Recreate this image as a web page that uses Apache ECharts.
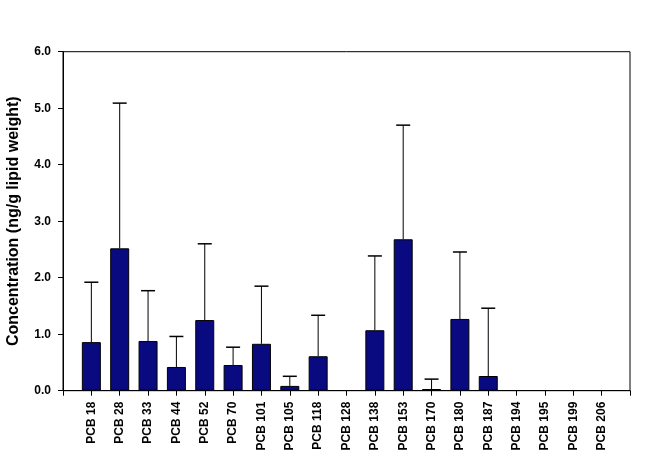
<!DOCTYPE html>
<html>
<head>
<meta charset="utf-8">
<script src="https://cdn.jsdelivr.net/npm/echarts@6/dist/echarts.min.js"></script>
<style>html,body{margin:0;padding:0;background:#fff;}#c{width:657px;height:471px;}</style>
</head>
<body>
<div id="c"></div>
<script>
const categories = ['PCB 18','PCB 28','PCB 33','PCB 44','PCB 52','PCB 70','PCB 101','PCB 105','PCB 118','PCB 128','PCB 138','PCB 153','PCB 170','PCB 180','PCB 187','PCB 194','PCB 195','PCB 199','PCB 206'];
const means = [0.86, 2.52, 0.88, 0.42, 1.25, 0.455, 0.83, 0.085, 0.61, 0, 1.07, 2.68, 0.03, 1.27, 0.26, 0, 0, 0, 0];
const upperErr = [1.92, 5.09, 1.77, 0.96, 2.60, 0.77, 1.85, 0.255, 1.335, 0, 2.385, 4.70, 0.205, 2.455, 1.46, 0, 0, 0, 0];
const yTicks = [0, 1, 2, 3, 4, 5, 6];

const padCats = [''].concat(categories).concat(['']);
const barData = [null].concat(means.map(v => v > 0 ? v : null)).concat([null]);
const errData = [];
categories.forEach((c, i) => { if (upperErr[i] > means[i]) errData.push([i + 1, means[i], upperErr[i]]); });

const chart = echarts.init(document.getElementById('c'), null, {renderer: 'canvas'});
const font = 'Liberation Sans, Arial, sans-serif';
chart.setOption({
  animation: false,
  backgroundColor: '#fff',
  grid: {left: 63, right: 27, top: 51.7, bottom: 80.3, containLabel: false, outerBoundsMode: 'none', show: true, borderColor: '#000', borderWidth: 1, backgroundColor: 'transparent'},
  xAxis: {
    type: 'category', data: padCats, boundaryGap: false,
    axisLine: {lineStyle: {color: '#000', width: 1}},
    axisTick: {show: true, length: 5, alignWithLabel: true, interval: 0, lineStyle: {color: '#000'}},
    axisLabel: {rotate: 90, interval: 0, margin: 11, fontFamily: font, fontWeight: 'bold', fontSize: 12, color: '#000'},
    splitLine: {show: false}
  },
  yAxis: {
    type: 'value', min: yTicks[0], max: yTicks[yTicks.length - 1], interval: 1,
    name: 'Concentration (ng/g lipid weight)', nameLocation: 'middle', nameGap: 41,
    nameTextStyle: {fontFamily: font, fontWeight: 'bold', fontSize: 16, color: '#000'},
    axisLine: {show: true, lineStyle: {color: '#000', width: 1}},
    axisTick: {show: true, length: 5, lineStyle: {color: '#000'}},
    axisLabel: {formatter: v => v.toFixed(1), fontFamily: font, fontWeight: 'bold', fontSize: 12, color: '#000', margin: 12},
    splitLine: {show: false}
  },
  series: [
    {
      type: 'bar', data: barData, barWidth: 19,
      itemStyle: {color: '#0a0a80', borderColor: '#000', borderWidth: 1}
    },
    {
      type: 'custom', data: errData, z: 3,
      renderItem: function (params, api) {
        const x = api.value(0);
        const lo = api.coord([x, api.value(1)]);
        const hi = api.coord([x, api.value(2)]);
        const hw = 7;
        return {
          type: 'group',
          children: [
            {type: 'line', shape: {x1: lo[0], y1: lo[1], x2: hi[0], y2: hi[1]}, style: {stroke: '#000', lineWidth: 1}},
            {type: 'line', shape: {x1: hi[0] - hw, y1: hi[1], x2: hi[0] + hw, y2: hi[1]}, style: {stroke: '#000', lineWidth: 1.5}}
          ]
        };
      }
    }
  ]
});
</script>
</body>
</html>
